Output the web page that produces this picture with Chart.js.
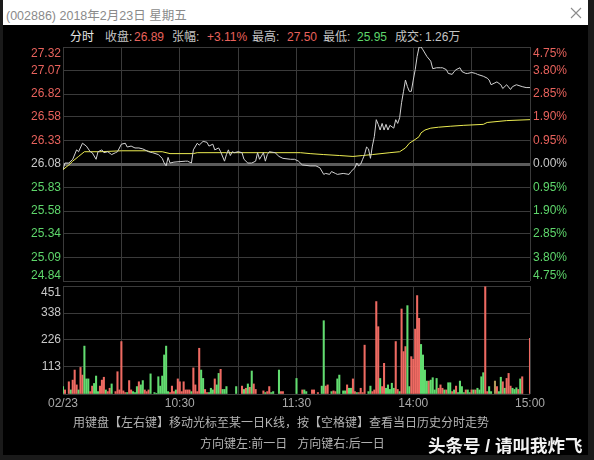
<!DOCTYPE html>
<html>
<head>
<meta charset="utf-8">
<script src="https://cdn.jsdelivr.net/npm/chart.js@4.4.1/dist/chart.umd.min.js"></script>
<style>
  body { margin:0; width:594px; height:460px; background:#1a1a1a; overflow:hidden; position:relative;
         font-family:"Liberation Sans","Noto Sans CJK SC",sans-serif; }
  #win { position:absolute; left:3px; top:0; width:585px; height:455px; background:#000; }
  #titlebar { position:absolute; left:3px; top:0; width:585px; height:25px; background:#fff; }
  #title { position:absolute; left:3px; top:5px; font-size:12.5px; color:#8a8a8a; white-space:nowrap; }
  #close { position:absolute; left:567px; top:7px; }
  .hd { position:absolute; top:30px; font-size:12px; line-height:14px; white-space:nowrap; color:#c4c4c4; }
  .r { color:#e8625c; } .g { color:#5ed66b; } .w { color:#e6e6e6; }
  canvas { position:absolute; left:0; }
  .note { position:absolute; font-size:12px; color:#b4b4b4; white-space:nowrap; }
  #mark { position:absolute; left:428px; top:432px; font-size:17.5px; font-weight:bold; color:#f2f2f2;
          text-shadow:1px 1px 2px #000, 0 0 3px #000; white-space:nowrap; }
</style>
</head>
<body>
<div id="win"></div>
<div id="titlebar">
  <div id="title">(002886) 2018年2月23日 星期五</div>
  <svg id="close" width="12" height="12"><path d="M1 1 L11 11 M11 1 L1 11" stroke="#8c8c8c" stroke-width="1.1"/></svg>
</div>

<div class="hd w" style="left:70px">分时</div>
<div class="hd" style="left:105px">收盘:</div>
<div class="hd r" style="left:134px">26.89</div>
<div class="hd" style="left:172px">张幅:</div>
<div class="hd r" style="left:207px">+3.11%</div>
<div class="hd" style="left:252px">最高:</div>
<div class="hd r" style="left:287px">27.50</div>
<div class="hd" style="left:323px">最低:</div>
<div class="hd g" style="left:357px">25.95</div>
<div class="hd" style="left:395px">成交:</div>
<div class="hd" style="left:425px">1.26万</div>

<canvas id="price" width="594" height="290" style="top:0"></canvas>
<canvas id="vol" width="594" height="130" style="top:282px"></canvas>

<div class="note" style="left:73px; top:413px">用键盘【左右键】移动光标至某一日K线，按【空格键】查看当日历史分时走势</div>
<div class="note" style="left:200px; top:434px">方向键左:前一日&nbsp;&nbsp;&nbsp;方向键右:后一日</div>
<div id="mark">头条号 / 请叫我炸飞</div>

<script>
const basePrice = 26.08;
const priceTicks = [24.84, 25.09, 25.34, 25.58, 25.83, 26.08, 26.33, 26.58, 26.82, 27.07, 27.32];
const pctTicks = ["4.75%", "3.80%", "2.85%", "1.90%", "0.95%", "0.00%", "0.95%", "1.90%", "2.85%", "3.80%", "4.75%"];
const gridMinutes = [0, 30, 60, 90, 120, 150, 180, 210, 240];
const timeMinutes = [0, 60, 120, 180, 240];
const timeLabels = ["02/23", "10:30", "11:30", "14:00", "15:00"];
const volTicks = [0, 113, 226, 338, 451];

// minute index (0 = 9:30, 120 = 11:30/13:00, 240 = 15:00)
const priceMin = [0, 1, 3, 5, 7, 8, 10, 12, 14, 15, 17, 18, 20, 21, 23, 25, 27, 28, 30, 32, 33, 35, 37, 39, 41, 44, 46, 49, 51, 52, 53, 54, 55, 57, 63, 64, 66, 67, 69, 70, 72, 74, 75, 77, 78, 80, 81, 83, 84, 85, 86, 87, 88, 90, 92, 93, 95, 97, 99, 100, 101, 103, 104, 105, 106, 109, 111, 113, 117, 119, 121, 123, 127, 130, 132, 134, 135, 137, 138, 140, 141, 144, 147, 148, 150, 151, 152, 153, 154, 155, 156, 157, 158, 159, 160, 161, 162, 163, 164, 165, 166, 167, 168, 170, 171, 172, 173, 174, 175, 176, 177, 178, 179, 180, 181, 182, 183, 184, 185, 187, 189, 190, 192, 194, 195, 197, 198, 200, 201, 202, 204, 205, 207, 208, 210, 212, 213, 216, 218, 219, 220, 222, 223, 225, 226, 228, 230, 231, 233, 236, 238, 240];
const priceVal = [26.02, 26.09, 26.09, 26.13, 26.23, 26.21, 26.30, 26.27, 26.21, 26.20, 26.13, 26.21, 26.23, 26.20, 26.21, 26.18, 26.20, 26.21, 26.29, 26.30, 26.26, 26.27, 26.25, 26.25, 26.24, 26.21, 26.20, 26.18, 26.14, 26.09, 26.06, 26.15, 26.09, 26.10, 26.11, 26.11, 26.09, 26.23, 26.30, 26.28, 26.32, 26.31, 26.27, 26.29, 26.23, 26.25, 26.21, 26.11, 26.18, 26.23, 26.17, 26.21, 26.20, 26.21, 26.20, 26.13, 26.09, 26.09, 26.11, 26.20, 26.13, 26.20, 26.11, 26.18, 26.21, 26.20, 26.16, 26.14, 26.13, 26.13, 26.11, 26.07, 26.06, 26.06, 26.04, 25.97, 25.98, 25.97, 26.00, 25.98, 25.97, 25.98, 25.97, 26.00, 26.04, 26.09, 26.06, 26.08, 26.13, 26.18, 26.26, 26.24, 26.14, 26.27, 26.37, 26.55, 26.50, 26.44, 26.51, 26.44, 26.50, 26.44, 26.49, 26.46, 26.55, 26.51, 26.57, 26.73, 26.85, 26.97, 26.90, 26.85, 26.85, 26.97, 27.08, 27.22, 27.32, 27.32, 27.29, 27.22, 27.17, 27.09, 27.10, 27.10, 27.10, 27.08, 27.04, 27.03, 27.06, 27.08, 27.10, 27.06, 27.04, 27.04, 27.05, 27.04, 27.03, 27.01, 26.99, 26.97, 26.92, 26.94, 26.95, 26.92, 26.88, 26.92, 26.87, 26.90, 26.92, 26.90, 26.89, 26.89];

const avgMin = [0, 3, 5, 8, 11, 19, 30, 43, 45, 51, 55, 67, 69, 84, 105, 122, 127, 134, 142, 149, 154, 159, 168, 173, 176, 178, 181, 183, 184, 186, 189, 193, 199, 206, 216, 218, 228, 240];
const avgVal = [26.02, 26.07, 26.11, 26.16, 26.21, 26.21, 26.22, 26.22, 26.21, 26.21, 26.19, 26.19, 26.20, 26.20, 26.20, 26.20, 26.19, 26.18, 26.17, 26.16, 26.17, 26.18, 26.20, 26.21, 26.25, 26.30, 26.34, 26.37, 26.41, 26.44, 26.46, 26.47, 26.48, 26.49, 26.50, 26.52, 26.54, 26.55];

const volMin = [0, 1, 3, 4, 5, 6, 7, 8, 9, 10, 11, 12, 13, 14, 15, 16, 17, 18, 19, 20, 21, 22, 23, 24, 25, 27, 28, 29, 30, 31, 32, 33, 34, 35, 36, 37, 38, 39, 40, 41, 42, 43, 44, 45, 47, 48, 49, 50, 51, 52, 53, 54, 55, 56, 57, 58, 59, 60, 61, 62, 63, 64, 65, 66, 67, 68, 69, 70, 71, 72, 73, 74, 75, 76, 77, 78, 79, 80, 81, 82, 83, 84, 89, 92, 93, 94, 95, 96, 97, 98, 99, 103, 104, 105, 106, 107, 108, 111, 112, 113, 120,
  123, 124, 125, 128, 129, 131, 133, 134, 135, 136, 138, 139, 140, 141, 142, 144, 145, 146, 147, 148, 149, 150, 151, 152, 153, 154, 155, 157, 158, 159, 160, 161, 162, 163, 164, 165, 166, 167, 168, 169, 170, 171, 172, 173, 174, 175, 176, 177, 178, 179, 180, 181, 182, 183, 184, 185, 186, 187, 188, 189, 190, 191, 192, 193, 194, 195, 196, 197, 198, 199, 200, 201, 202, 203, 204, 205, 206, 207, 208, 209, 210, 211, 212, 213, 214, 215, 216, 217, 218, 219, 220, 222, 223, 224, 225, 226, 227, 228, 229, 230, 231, 232, 233, 234, 235, 236, 240];
const volVal = [31, 17, 51, 17, 58, 100, 38, 17, 111, 79, 200, 63, 63, 10, 33, 44, 75, 10, 33, 58, 70, 17, 10, 24, 42, 10, 93, 17, 219, 13, 6, 6, 56, 17, 10, 6, 31, 51, 38, 56, 17, 10, 17, 84, 6, 3, 72, 33, 75, 163, 200, 10, 6, 33, 10, 17, 63, 51, 10, 51, 17, 17, 17, 10, 109, 38, 10, 191, 100, 65, 19, 6, 6, 24, 17, 63, 38, 86, 103, 19, 19, 31, 31, 33, 19, 24, 42, 28, 96, 42, 19, 13, 6, 10, 31, 6, 10, 100, 10, 10, 65,
  17, 17, 10, 17, 17, 6, 33, 306, 33, 38, 10, 13, 10, 63, 79, 13, 13, 38, 24, 24, 63, 10, 6, 6, 24, 6, 204, 10, 33, 10, 17, 386, 281, 65, 31, 128, 24, 38, 19, 45, 24, 219, 19, 10, 355, 177, 198, 369, 31, 156, 145, 271, 411, 316, 207, 163, 100, 54, 54, 58, 68, 17, 65, 24, 38, 24, 17, 17, 47, 47, 10, 17, 33, 6, 54, 31, 6, 17, 17, 6, 17, 17, 17, 24, 17, 72, 89, 448, 10, 31, 10, 54, 31, 10, 70, 51, 24, 65, 86, 33, 24, 19, 26, 19, 63, 72, 232];
// 1 = up (red), -1 = down (green), 0 = flat
const volDir = [-1, 1, 1, -1, 1, 1, 1, -1, 1, 1, -1, -1, -1, 1, 1, -1, -1, -1, 1, 1, 1, -1, 1, 1, -1, 1, 1, 1, 1, 1, 1, -1, 1, 1, -1, -1, -1, 1, -1, -1, 1, 1, 1, -1, -1, -1, -1, -1, -1, -1, -1, -1, 1, 1, 1, -1, 1, 1, 1, 1, 1, 1, 1, -1, 1, 1, 1, 1, -1, -1, 1, 1, -1, -1, -1, 1, -1, -1, 1, -1, -1, -1, -1, 1, -1, 1, -1, 1, -1, 1, 1, 1, -1, 1, 1, -1, -1, -1, 1, 1, -1,
  1, -1, -1, 1, 1, 1, -1, -1, 1, 1, -1, 1, 1, -1, -1, -1, -1, 1, -1, -1, 1, 1, -1, 1, 1, 1, 1, -1, -1, 1, 1, 1, 1, -1, 1, 1, -1, -1, -1, -1, -1, 1, 1, -1, 1, 1, 1, -1, -1, 1, 1, 1, 1, 1, -1, -1, -1, -1, 1, -1, -1, -1, -1, 1, 1, 1, -1, 1, -1, -1, 1, -1, 1, -1, -1, -1, -1, 1, -1, -1, 1, -1, 1, -1, -1, -1, -1, 1, 1, -1, -1, 0, 1, -1, -1, 1, -1, 1, 1, 1, -1, -1, -1, 1, -1, 1, 1];

const RED = "#ee6a62", GREEN = "#62dc70", GRAY = "#c8c8c8", FLAT = "#b09a5a";
const GRID = "#3a3a3a";
const FONT = '12px "Liberation Sans", "Noto Sans CJK SC", sans-serif';

const hiddenX = {
  type: "linear", min: 0, max: 240, offset: false,
  ticks: { display: false },
  grid: { color: GRID, drawTicks: false, offset: false },
  border: { display: false },
  afterBuildTicks: s => { s.ticks = gridMinutes.map(v => ({ value: v })); },
  afterFit: s => { s.height = 0; }
};

const priceLabels = {
  id: "priceLabels",
  afterDraw(chart) {
    const ctx = chart.ctx, y = chart.scales.y, a = chart.chartArea;
    ctx.save();
    ctx.font = FONT;
    ctx.textBaseline = "middle";
    priceTicks.forEach((v, k) => {
      let py = y.getPixelForValue(v);
      py = Math.min(Math.max(py, a.top + 6.5), a.bottom - 5);
      ctx.fillStyle = v > basePrice ? "#e8625c" : v < basePrice ? "#5ed66b" : GRAY;
      ctx.textAlign = "right";
      ctx.fillText(v.toFixed(2), a.left - 2, py);
      ctx.textAlign = "left";
      ctx.fillText(pctTicks[k], a.right + 3, py);
    });
    ctx.restore();
  }
};

new Chart(document.getElementById("price"), {
  type: "line",
  data: {
    datasets: [
      { data: priceMin.map((m, k) => ({ x: m, y: priceVal[k] })), borderColor: "#d2d2d2", borderWidth: 1, pointRadius: 0, tension: 0 },
      { data: avgMin.map((m, k) => ({ x: m, y: avgVal[k] })), borderColor: "#ecec52", borderWidth: 1, pointRadius: 0, tension: 0 }
    ]
  },
  options: {
    animation: false, responsive: false, devicePixelRatio: 1,
    layout: { padding: { left: 63, right: 64, top: 47, bottom: 9 } },
    plugins: { legend: { display: false }, tooltip: { enabled: false } },
    scales: {
      x: hiddenX,
      y: {
        min: 24.84, max: 27.32,
        ticks: { display: false },
        grid: {
          drawTicks: false,
          color: c => c.tick && c.tick.value === basePrice ? "#5c5c5c" : GRID,
          lineWidth: c => c.tick && c.tick.value === basePrice ? 3 : 1
        },
        border: { display: false },
        afterBuildTicks: s => { s.ticks = priceTicks.map(v => ({ value: v })); },
        afterFit: s => { s.width = 0; }
      }
    }
  },
  plugins: [priceLabels]
});

const volLabels = {
  id: "volLabels",
  afterDraw(chart) {
    const ctx = chart.ctx, y = chart.scales.y, x = chart.scales.x, a = chart.chartArea;
    ctx.save();
    ctx.font = FONT;
    ctx.textBaseline = "middle";
    ctx.fillStyle = GRAY;
    ctx.textAlign = "right";
    volTicks.forEach(v => {
      if (v === 0) return;
      let py = Math.max(y.getPixelForValue(v), a.top + 7);
      ctx.fillText(String(v), a.left - 2, py);
    });
    ctx.fillStyle = "#a8a8a8";
    ctx.textAlign = "center";
    timeMinutes.forEach((m, k) => {
      ctx.fillText(timeLabels[k], x.getPixelForValue(m), a.bottom + 10);
    });
    ctx.restore();
  }
};

new Chart(document.getElementById("vol"), {
  type: "bar",
  data: {
    datasets: [{
      data: volMin.map((m, k) => ({ x: m, y: volVal[k] })),
      backgroundColor: volDir.map(d => d > 0 ? RED : d < 0 ? GREEN : FLAT),
      barThickness: 1.4, borderWidth: 0
    }]
  },
  options: {
    animation: false, responsive: false, devicePixelRatio: 1,
    layout: { padding: { left: 63, right: 64, top: 4, bottom: 18 } },
    plugins: { legend: { display: false }, tooltip: { enabled: false } },
    scales: {
      x: hiddenX,
      y: {
        min: 0, max: 451,
        ticks: { display: false },
        grid: { drawTicks: false, color: GRID },
        border: { display: false },
        afterBuildTicks: s => { s.ticks = volTicks.map(v => ({ value: v })); },
        afterFit: s => { s.width = 0; }
      }
    }
  },
  plugins: [volLabels]
});
</script>
</body>
</html>
